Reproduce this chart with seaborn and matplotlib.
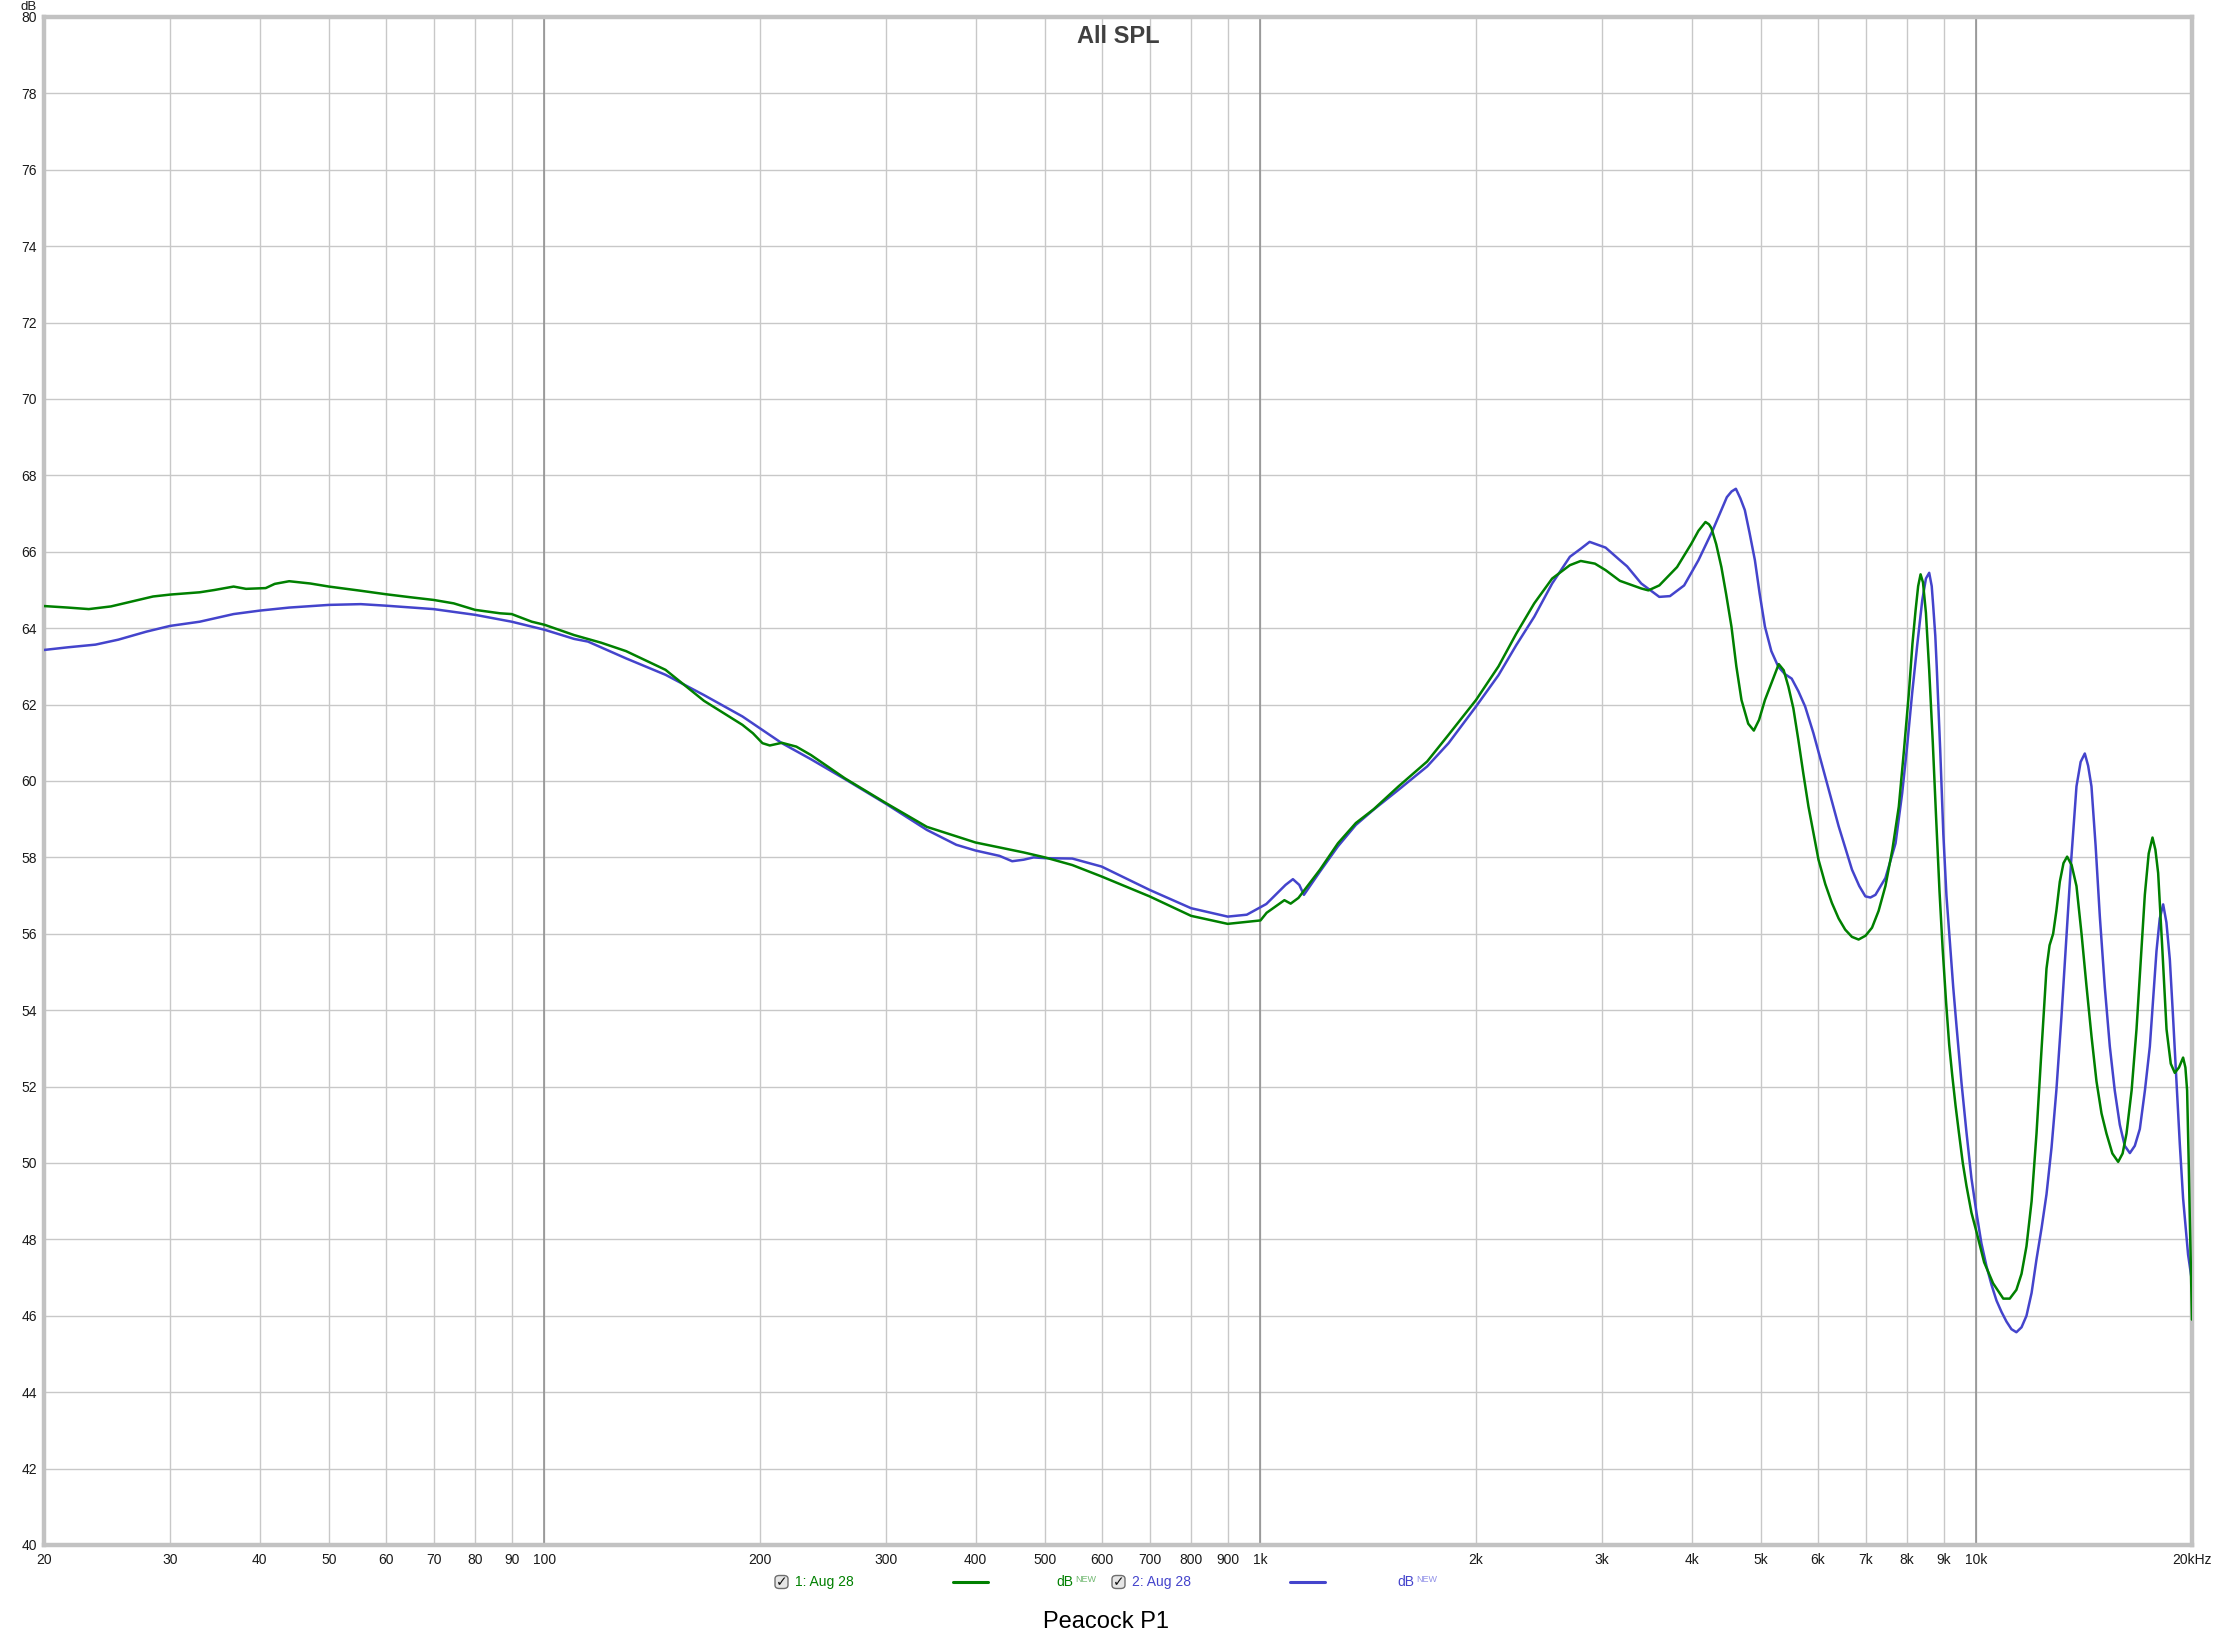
import matplotlib
matplotlib.use("Agg")
import matplotlib.pyplot as plt
import seaborn as sns
import pandas as pd
from matplotlib.patches import FancyBboxPatch
from matplotlib.lines import Line2D

# channel 1 (green) - frequency in Hz, SPL in dB
freq_1 = [20, 21.6, 23.1, 24.8, 26.8, 28.4, 30, 33, 34.6, 36.8, 38.3, 40.8, 42, 44, 47.1, 50,
          55.4, 60, 65, 70, 74.7, 80, 86.7, 90, 96, 100, 110, 120, 130, 147.6, 167, 189,
          195.5, 201.6, 206.4, 214.6, 224.8, 235.6, 262.8, 300, 342, 400, 467, 500, 546, 600,
          700, 800, 900, 1000, 1020, 1080, 1102, 1130, 1211, 1283, 1359, 1439, 1559, 1709,
          1831, 2000, 2150, 2277, 2412, 2555, 2705, 2801, 2932, 3034, 3177, 3403, 3482, 3606,
          3818, 3997, 4090, 4183, 4230, 4264, 4330, 4403, 4470, 4548, 4620, 4697, 4800, 4887,
          4970, 5065, 5205, 5295, 5380, 5462, 5550, 5640, 5730, 5826, 6017, 6150, 6281, 6420,
          6556, 6700, 6845, 7000, 7147, 7300, 7462, 7630, 7790, 7920, 8046, 8140, 8222, 8290,
          8355, 8420, 8500, 8590, 8690, 8780, 8880, 8970, 9070, 9160, 9250, 9350, 9450, 9570,
          9684, 9840, 10000, 10250, 10550, 10900, 11130, 11370, 11560, 11745, 11940, 12130,
          12330, 12526, 12650, 12796, 12930, 13073, 13230, 13385, 13580, 13794, 14020, 14244,
          14480, 14710, 14950, 15191, 15480, 15773, 16000, 16201, 16470, 16731, 16960, 17185,
          17400, 17614, 17780, 17937, 18180, 18427, 18680, 18923, 19180, 19436, 19580, 19688,
          19790, 19861, 19930, 20000]
spl_1 = [64.58, 64.54, 64.50, 64.57, 64.72, 64.83, 64.88, 64.94, 65.00, 65.09, 65.03, 65.05, 65.16,
         65.23, 65.17, 65.09, 64.98, 64.89, 64.81, 64.74, 64.65, 64.48, 64.39, 64.37, 64.17, 64.09,
         63.82, 63.62, 63.40, 62.91, 62.10, 61.47, 61.25, 60.99, 60.93, 61.00, 60.90, 60.68, 60.07,
         59.42, 58.80, 58.39, 58.13, 58.00, 57.80, 57.50, 56.98, 56.47, 56.26, 56.35, 56.55, 56.88,
         56.79, 56.94, 57.68, 58.37, 58.90, 59.26, 59.86, 60.51, 61.21, 62.12, 63.00, 63.86, 64.65,
         65.30, 65.65, 65.76, 65.69, 65.52, 65.24, 65.04, 64.99, 65.12, 65.60, 66.21, 66.55, 66.78,
         66.72, 66.62, 66.20, 65.60, 64.90, 64.04, 63.00, 62.12, 61.50, 61.32,
         61.60, 62.12, 62.70, 63.06, 62.90, 62.47, 61.90, 61.07, 60.20, 59.33, 57.94, 57.30, 56.81,
         56.40, 56.11, 55.92, 55.85, 55.95, 56.16, 56.60, 57.25, 58.20, 59.33, 60.80, 62.30, 63.60,
         64.47, 65.10, 65.41, 65.20, 64.40, 62.90, 61.00, 59.10, 57.10, 55.60, 54.20, 53.10, 52.30,
         51.50, 50.80, 50.00, 49.40, 48.70, 48.20, 47.40, 46.85, 46.45, 46.45, 46.68, 47.10, 47.82,
         49.00, 50.77, 53.00, 55.09, 55.70, 56.00, 56.60, 57.36, 57.85, 58.02, 57.80, 57.25, 56.00,
         54.64, 53.30, 52.14, 51.30, 50.77, 50.25, 50.03, 50.25, 50.77, 51.90, 53.50, 55.30, 57.02,
         58.10, 58.52, 58.20, 57.59, 55.60, 53.50, 52.60, 52.36, 52.50, 52.76, 52.50, 51.90, 50.00,
         48.50, 47.20, 45.90]

# channel 2 (blue)
freq_2 = [20, 21.6, 23.6, 25.4, 27.8, 30, 33, 36.8, 40, 44, 50, 55.4, 60, 70, 80, 90, 100, 110,
          115, 130, 147.6, 167, 189, 214.6, 235.6, 262.8, 300, 342, 376, 400, 432, 450, 467, 482,
          500, 546, 600, 700, 800, 900, 957, 1019, 1084, 1110, 1133, 1150, 1211, 1283, 1359, 1439,
          1559, 1709, 1831, 2000, 2150, 2277, 2412, 2555, 2705, 2801, 2882, 3034, 3177, 3251, 3403,
          3606, 3732, 3906, 4090, 4281, 4481, 4550, 4613, 4680, 4748, 4820, 4904, 4980, 5065, 5170,
          5288, 5400, 5520, 5640, 5764, 5920, 6147, 6419, 6701, 6860, 6996, 7110, 7226, 7462, 7709,
          7875, 8000, 8132, 8270, 8400, 8500, 8590, 8660, 8700, 8760, 8800, 8900, 8990, 9080, 9180,
          9280, 9377, 9530, 9684, 9840, 10000, 10160, 10327, 10500, 10665, 10840, 11013, 11190,
          11370, 11560, 11745, 11940, 12130, 12330, 12526, 12730, 12930, 13140, 13350, 13570, 13794,
          13980, 14168, 14320, 14475, 14670, 14870, 15110, 15355, 15600, 15857, 16110, 16377, 16640,
          16911, 17190, 17464, 17650, 17842, 18030, 18229, 18420, 18625, 18820, 19024, 19230, 19436,
          19600, 19750, 20000]
spl_2 = [63.43, 63.50, 63.57, 63.70, 63.91, 64.06, 64.17, 64.37, 64.46, 64.54, 64.61, 64.63, 64.59,
         64.50, 64.35, 64.17, 63.96, 63.72, 63.65, 63.21, 62.78, 62.25, 61.69, 60.99, 60.57, 60.05,
         59.40, 58.72, 58.33, 58.18, 58.04, 57.90, 57.94, 58.00, 57.98, 57.97, 57.76, 57.15, 56.67,
         56.45, 56.50, 56.78, 57.28, 57.43, 57.28, 57.02, 57.63, 58.29, 58.85, 59.25, 59.77, 60.38,
         60.99, 61.95, 62.77, 63.56, 64.30, 65.17, 65.87, 66.08, 66.26, 66.11, 65.78, 65.62, 65.17,
         64.82, 64.84, 65.12, 65.78, 66.56, 67.43, 67.58, 67.65, 67.40, 67.09, 66.50, 65.78, 64.90,
         64.04, 63.40, 62.99, 62.80, 62.68, 62.35, 61.95, 61.25, 60.12, 58.82, 57.68, 57.25, 56.98,
         56.95, 57.02, 57.46, 58.37, 59.68, 60.90, 62.30, 63.60, 64.73, 65.30, 65.45, 65.10, 64.60,
         63.80, 63.00, 60.80, 58.60, 57.00, 55.80, 54.60, 53.60, 52.10, 50.80, 49.60, 48.70, 47.90,
         47.30, 46.80, 46.40, 46.10, 45.85, 45.65, 45.57, 45.70, 46.00, 46.60, 47.48, 48.30, 49.18,
         50.40, 51.90, 53.80, 55.89, 58.00, 59.86, 60.50, 60.72, 60.40, 59.86, 58.30, 56.45, 54.60,
         53.05, 51.90, 51.00, 50.45, 50.26, 50.45, 50.89, 51.90, 53.05, 54.30, 55.55, 56.40, 56.77,
         56.30, 55.32, 53.80, 52.14, 50.50, 49.07, 48.30, 47.60, 46.90]

x_ticks = [20, 30, 40, 50, 60, 70, 80, 90, 100, 200, 300, 400, 500, 600, 700, 800, 900,
           1000, 2000, 3000, 4000, 5000, 6000, 7000, 8000, 9000, 10000, 20000]
x_labels = ["20", "30", "40", "50", "60", "70", "80", "90", "100", "200", "300", "400", "500",
            "600", "700", "800", "900", "1k", "2k", "3k", "4k", "5k", "6k", "7k", "8k", "9k",
            "10k", "20kHz"]
decades = [100, 1000, 10000]
y_ticks = list(range(40, 81, 2))

GREEN = "#008000"
BLUE = "#4444CC"

sns.set_theme(style="white")
plt.rcParams['font.family'] = ['Liberation Sans Narrow', 'Liberation Sans', 'DejaVu Sans']

W, H = 2215, 1638
fig = plt.figure(figsize=(W / 100, H / 100), dpi=100)
fig.patch.set_facecolor("white")
ax = fig.add_axes([44 / W, 1 - 1545 / H, (2192 - 44) / W, (1545 - 17) / H])

df1 = pd.DataFrame({"freq": freq_1, "spl": spl_1})
df2 = pd.DataFrame({"freq": freq_2, "spl": spl_2})

ax.set_xscale("log")
sns.lineplot(data=df1, x="freq", y="spl", ax=ax, color=GREEN, lw=1.8, estimator=None, sort=False, zorder=4)
sns.lineplot(data=df2, x="freq", y="spl", ax=ax, color=BLUE, lw=1.8, estimator=None, sort=False, zorder=3)

ax.set_xlim(20, 20000)
ax.set_ylim(40, 80)
ax.set_xticks(x_ticks)
ax.set_xticklabels(x_labels)
ax.minorticks_off()
ax.set_yticks(y_ticks)
ax.set_xlabel("")
ax.set_ylabel("")
ax.tick_params(axis="both", length=0, labelsize=10, colors="#1a1a1a")
ax.tick_params(axis="x", pad=6)
ax.tick_params(axis="y", pad=5)

ax.set_axisbelow(True)
ax.grid(True, color="#C8C8C8", lw=1.0)
for d in decades:
    ax.axvline(d, color="#8C8C8C", lw=1.1, zorder=1)

for s in ax.spines.values():
    s.set_color("#C2C2C2")
    s.set_linewidth(3.2)

ax.text(0.5, 0.987, "All SPL", transform=ax.transAxes, ha="center", va="center",
        fontsize=17, fontweight="bold", color="#404040", family=["Liberation Sans", "DejaVu Sans"])
fig.text(37 / W, 1 - 6.5 / H, "dB", ha="right", va="center", fontsize=9.5, color="#1a1a1a")
fig.text(1106 / W, 1 - 1622 / H, "Peacock P1", ha="center", va="center", fontsize=17,
         color="black", family=["Liberation Sans", "DejaVu Sans"])

# legend row
ly = 1 - 1582 / H
legend_items = [
    (775, 795, "1: Aug 28", 953, 988, 1056, 1075, GREEN, "#70B870"),
    (1112, 1132, "2: Aug 28", 1290, 1325, 1397, 1416, BLUE, "#9090E8"),
]
for cb_x, tx, label, l0, l1, dbx, nwx, col, light in legend_items:
    box = FancyBboxPatch((cb_x / W, ly - 6.5 / H), 13 / W, 13 / H,
                         boxstyle="round,pad=0,rounding_size=0.002", transform=fig.transFigure,
                         facecolor="#E6E6E6", edgecolor="#6E6E6E", lw=1.0)
    fig.patches.append(box)
    fig.text((cb_x + 6.5) / W, ly, "\u2713", ha="center", va="center", fontsize=10,
             fontweight="bold", color="#111111", family=["DejaVu Sans"])
    fig.text(tx / W, ly, label, ha="left", va="center", fontsize=10, color=col)
    fig.lines.append(Line2D([l0 / W, l1 / W], [ly, ly], transform=fig.transFigure, color=col, lw=2.2))
    fig.text(dbx / W, ly, "dB", ha="left", va="center", fontsize=10, color=col)
    fig.text(nwx / W, ly + 2.5 / H, "NEW", ha="left", va="center", fontsize=6.5, color=light)

fig.savefig("out.png", dpi=100, facecolor="white")
